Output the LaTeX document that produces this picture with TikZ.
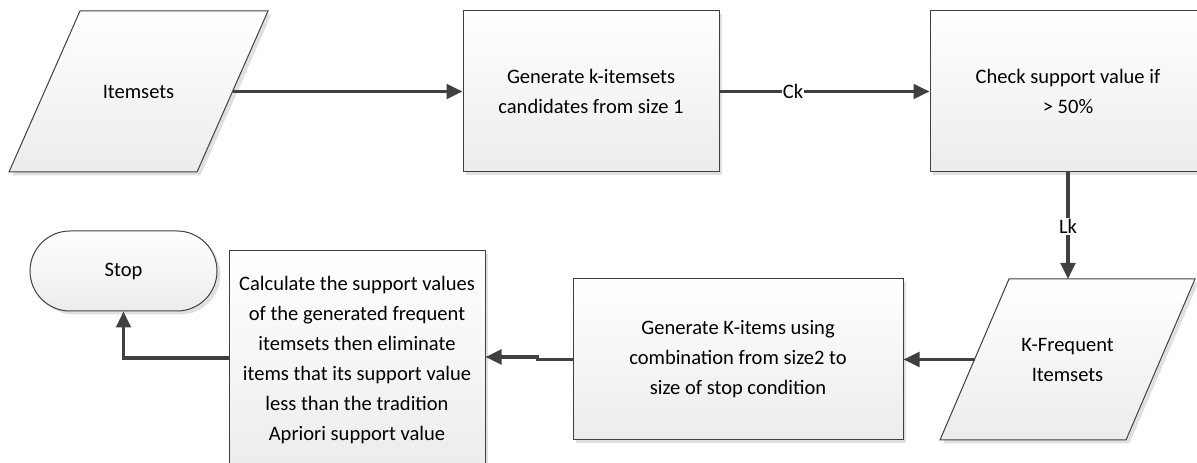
\documentclass[tikz,border=0pt]{standalone}
\usepackage{fontspec}
\setmainfont{Carlito}
\usetikzlibrary{arrows.meta,shadows,calc}
\definecolor{edge}{HTML}{404040}
\definecolor{shade}{HTML}{ECECEC}
\tikzset{
  shp/.style={draw=edge, line width=0.75pt, top color=white, bottom color=shade,
    drop shadow={shadow xshift=2.6pt, shadow yshift=-2.6pt, fill=black!12, opacity=1}},
  procbox/.style={shp, rectangle, align=center, font=\fontsize{15.4}{22.5}\selectfont, inner sep=0pt},
  termbox/.style={shp, rectangle, rounded corners=30pt, font=\fontsize{15.4}{22.5}\selectfont, inner sep=0pt},
  txt/.style={align=center, font=\fontsize{15.4}{22.5}\selectfont, inner sep=0pt},
  flow/.style={draw=edge, line width=2.3pt, -{Triangle[length=12pt,width=11pt]}},
  lbl/.style={fill=white, font=\fontsize{15.4}{18}\selectfont, inner sep=1pt, text=black}
}
\begin{document}
\begin{tikzpicture}[x=0.75pt,y=-0.75pt]
\useasboundingbox (0,0) rectangle (1197,463);
% parallelograms
\path[shp] (9,172) -- (197,172) -- (268,11) -- (80,11) -- cycle;
\node[txt] (itemsets) at (138.5,91.5) {Itemsets};
\coordinate (itemsetsR) at (232.5,91.5);
\path[shp] (940,440) -- (1126,440) -- (1195,279) -- (1009,279) -- cycle;
\node[txt] (kfreq) at (1067.5,359.5) {K-Frequent\\Itemsets};
\coordinate (kfreqT) at (1068,279);
\coordinate (kfreqL) at (974.5,359.5);
% boxes
\node[procbox, minimum width=192pt, minimum height=120.75pt] (gen) at (591,91.5)
  {Generate k-itemsets\\candidates from size 1};
\node[procbox, minimum width=207pt, minimum height=120.75pt] (check) at (1068,91.5)
  {Check support value if\\ > 50\%};
\node[procbox, minimum width=247.5pt, minimum height=120.75pt] (genk) at (738,359.5)
  {Generate K-items using\\combination from size2 to\\size of stop condition};
\node[procbox, minimum width=192pt, minimum height=163.5pt] (calc) at (357,360)
  {Calculate the support values\\of the generated frequent\\itemsets then eliminate\\items that its support value\\less than the tradition\\Apriori support value};
\node[termbox, minimum width=140.25pt, minimum height=60pt] (stop) at (123.5,271) {Stop};
% connectors
\draw[flow] (itemsetsR) -- (gen.west);
\draw[flow] (gen.east) -- node[lbl, pos=0.35] (ck) {Ck} (check.west);
\draw[flow] (check.south) -- node[lbl, pos=0.51] (lk) {Lk} (kfreqT);
\draw[flow] (kfreqL) -- (genk.east);
\draw[flow] (genk.west) -- ++(-35,0) |- ($(calc.east)+(0,-3)$);
\draw[flow] ($(calc.west)+(0,-2)$) -| (stop.south);
\end{tikzpicture}
\end{document}
